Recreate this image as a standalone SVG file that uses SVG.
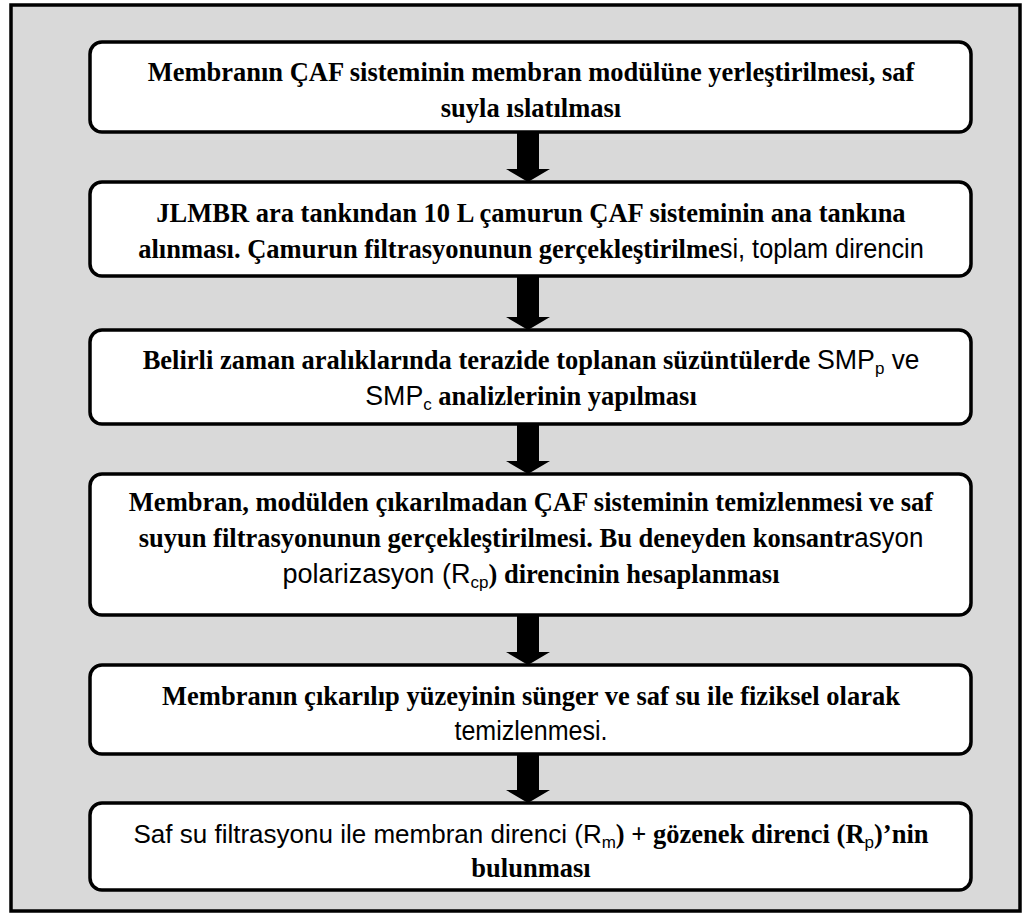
<svg xmlns="http://www.w3.org/2000/svg" width="1022" height="915" viewBox="0 0 1022 915">
<style>
.frame{fill:#d9d9d9;stroke:#000;stroke-width:3.5}
.box{fill:#fff;stroke:#000;stroke-width:3.5}
.arrow{fill:#000;stroke:none}
text{font-family:"Liberation Serif","Times New Roman",serif;font-weight:bold;font-size:26.5px;fill:#000;text-anchor:middle}
.s{font-family:"Liberation Sans",Arial,sans-serif;font-weight:normal;font-size:27px}
.s6{font-family:"Liberation Sans",Arial,sans-serif;font-weight:normal;font-size:26px}
.sub{font-family:"Liberation Sans",Arial,sans-serif;font-weight:normal;font-size:17px}
</style>
<rect class="frame" x="11" y="5" width="1009" height="906"/>
<g id="connectors">
<path class="arrow" d="M517,133 H539 V169 H550 L528,182 L506,169 H517 Z"/>
<path class="arrow" d="M517,277 H539 V317 H550 L528,330 L506,317 H517 Z"/>
<path class="arrow" d="M517,425 H539 V461 H550 L528,474 L506,461 H517 Z"/>
<path class="arrow" d="M517,616 H539 V652 H550 L528,665 L506,652 H517 Z"/>
<path class="arrow" d="M517,755 H539 V790 H550 L528,803 L506,790 H517 Z"/>
</g>
<g id="step1">
<rect class="box" x="90" y="42" width="881" height="90" rx="12"/>
<text x="531" y="81">Membranın ÇAF sisteminin membran modülüne yerleştirilmesi, saf</text>
<text x="531" y="117">suyla ıslatılması</text>
</g>
<g id="step2">
<rect class="box" x="90" y="182" width="881" height="94" rx="12"/>
<text x="531" y="222">JLMBR ara tankından 10 L çamurun ÇAF sisteminin ana tankına</text>
<text x="531" y="258">alınması. Çamurun filtrasyonunun gerçekleştirilme<tspan class="s" textLength="204" lengthAdjust="spacingAndGlyphs">si, toplam direncin</tspan></text>
</g>
<g id="step3">
<rect class="box" x="90" y="330" width="881" height="94" rx="12"/>
<text x="531" y="369">Belirli zaman aralıklarında terazide toplanan süzüntülerde <tspan class="s" textLength="58" lengthAdjust="spacingAndGlyphs">SMP</tspan><tspan class="sub" dy="5">p</tspan><tspan class="s" dy="-5" textLength="35" lengthAdjust="spacingAndGlyphs"> ve</tspan></text>
<text x="531" y="405"><tspan class="s" textLength="58" lengthAdjust="spacingAndGlyphs">SMP</tspan><tspan class="sub" dy="5">c</tspan><tspan dy="-5"> analizlerinin yapılması</tspan></text>
</g>
<g id="step4">
<rect class="box" x="90" y="474" width="881" height="141" rx="12"/>
<text x="531" y="511">Membran, modülden çıkarılmadan ÇAF sisteminin temizlenmesi ve saf</text>
<text x="531" y="547">suyun filtrasyonunun gerçekleştirilmesi. Bu deneyden konsantr<tspan class="s" textLength="69" lengthAdjust="spacingAndGlyphs">asyon</tspan></text>
<text x="531" y="583"><tspan class="s" textLength="188" lengthAdjust="spacingAndGlyphs">polarizasyon (R</tspan><tspan class="sub" dy="5">cp</tspan><tspan dy="-5">) direncinin hesaplanması</tspan></text>
</g>
<g id="step5">
<rect class="box" x="90" y="665" width="881" height="89" rx="12"/>
<text x="531" y="705">Membranın çıkarılıp yüzeyinin sünger ve saf su ile fiziksel olarak</text>
<text x="531" y="740"><tspan class="s" textLength="153" lengthAdjust="spacingAndGlyphs">temizlenmesi.</tspan></text>
</g>
<g id="step6">
<rect class="box" x="90" y="803" width="881" height="87" rx="12"/>
<text x="531" y="843"><tspan class="s6">Saf su filtrasyonu ile membran direnci (R</tspan><tspan class="sub" dy="5">m</tspan><tspan dy="-5">) + gözenek direnci (R</tspan><tspan class="sub" dy="5">p</tspan><tspan dy="-5">)’nin</tspan></text>
<text x="531" y="877">bulunması</text>
</g>
</svg>
